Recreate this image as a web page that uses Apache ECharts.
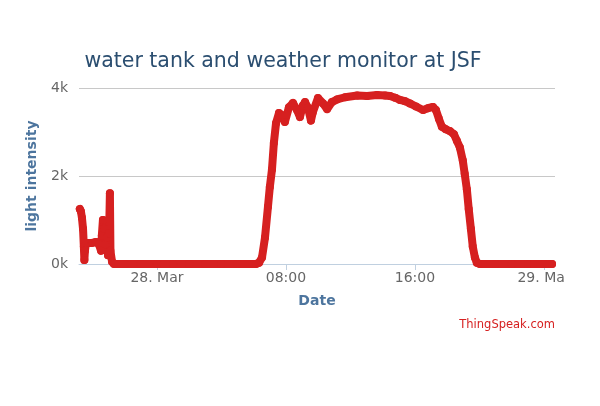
<!DOCTYPE html>
<html>
<head>
<meta charset="utf-8">
<script src="https://cdn.jsdelivr.net/npm/echarts@6/dist/echarts.min.js"></script>
<style>
  html, body { margin: 0; padding: 0; background: #ffffff; }
  #chart { width: 566px; height: 406px; }
</style>
</head>
<body>
<div id="chart"></div>
<script>
// ---- data ----
const titleText = 'water tank and weather monitor at JSF';
const yAxisTitle = 'light intensity';
const xAxisTitle = 'Date';
const creditText = 'ThingSpeak.com';

const axisStart = '2016-03-27 19:10';
const axisEnd = '2016-03-29 00:41';
const xTickValues = ['2016-03-28 00:00', '2016-03-28 08:00', '2016-03-28 16:00', '2016-03-29 00:00'];
const yTickValues = [0, 2000, 4000];
const yTickLabels = ['0k', '2k', '4k'];

const times = [
  '2016-03-27 19:13', '2016-03-27 19:17', '2016-03-27 19:21', '2016-03-27 19:25', '2016-03-27 19:28',
  '2016-03-27 19:30', '2016-03-27 19:32', '2016-03-27 19:36', '2016-03-27 19:43', '2016-03-27 19:58',
  '2016-03-27 20:13', '2016-03-27 20:24', '2016-03-27 20:32', '2016-03-27 20:35', '2016-03-27 20:39',
  '2016-03-27 20:43', '2016-03-27 20:47', '2016-03-27 20:54', '2016-03-27 20:58', '2016-03-27 21:02',
  '2016-03-27 21:05', '2016-03-27 21:07', '2016-03-27 21:13', '2016-03-27 21:20',
  '2016-03-27 22:00', '2016-03-27 23:00', '2016-03-28 00:00', '2016-03-28 01:00', '2016-03-28 02:00',
  '2016-03-28 03:00', '2016-03-28 04:00', '2016-03-28 05:00', '2016-03-28 06:08',
  '2016-03-28 06:20', '2016-03-28 06:31', '2016-03-28 06:42', '2016-03-28 06:53', '2016-03-28 07:00',
  '2016-03-28 07:08', '2016-03-28 07:15', '2016-03-28 07:23', '2016-03-28 07:34', '2016-03-28 07:45',
  '2016-03-28 07:56', '2016-03-28 08:11', '2016-03-28 08:26', '2016-03-28 08:41', '2016-03-28 08:52',
  '2016-03-28 09:03', '2016-03-28 09:11', '2016-03-28 09:22', '2016-03-28 09:33', '2016-03-28 09:40',
  '2016-03-28 09:59', '2016-03-28 10:18', '2016-03-28 10:33', '2016-03-28 10:51', '2016-03-28 11:10',
  '2016-03-28 11:40', '2016-03-28 12:25', '2016-03-28 13:02', '2016-03-28 13:39', '2016-03-28 14:09',
  '2016-03-28 14:27', '2016-03-28 14:46', '2016-03-28 15:04', '2016-03-28 15:23', '2016-03-28 15:41',
  '2016-03-28 16:04', '2016-03-28 16:30', '2016-03-28 16:48', '2016-03-28 17:07', '2016-03-28 17:18',
  '2016-03-28 17:29', '2016-03-28 17:40', '2016-03-28 17:55', '2016-03-28 18:10', '2016-03-28 18:25',
  '2016-03-28 18:36', '2016-03-28 18:47', '2016-03-28 18:58', '2016-03-28 19:05', '2016-03-28 19:13',
  '2016-03-28 19:20', '2016-03-28 19:28', '2016-03-28 19:35', '2016-03-28 19:43', '2016-03-28 19:50',
  '2016-03-28 20:02', '2016-03-28 21:00', '2016-03-28 22:00', '2016-03-28 23:00', '2016-03-29 00:00',
  '2016-03-29 00:30'
];
const values = [
  1250, 1200, 1050, 800, 400,
  90, 300, 480, 480, 480,
  500, 450, 300, 650, 1000,
  800, 450, 600, 200, 700,
  1610, 300, 50, 0,
  0, 0, 0, 0, 0,
  0, 0, 0, 0,
  30, 150, 600, 1300, 1750,
  2150, 2750, 3200, 3430, 3380,
  3230, 3560, 3660, 3500, 3340,
  3600, 3680, 3550, 3260, 3450,
  3770, 3650, 3520, 3680, 3740,
  3790, 3830, 3820, 3840, 3830,
  3820, 3780, 3730, 3700, 3650,
  3580, 3500, 3540, 3570, 3500,
  3300, 3120, 3060, 3020, 2950,
  2800, 2650, 2350, 2050, 1700,
  1250, 800, 400, 150, 30,
  0, 0, 0, 0, 0,
  0
];

// ---- chart ----
const toTs = s => +new Date(s.replace(' ', 'T') + ':00');
const seriesData = times.map((t, i) => [toTs(t), values[i]]);
const xTicks = xTickValues.map(toTs);
const months = ['Jan','Feb','Mar','Apr','May','Jun','Jul','Aug','Sep','Oct','Nov','Dec'];

const chart = echarts.init(document.getElementById('chart'), null, { renderer: 'canvas' });
chart.setOption({
  animation: false,
  backgroundColor: '#ffffff',
  title: {
    text: titleText,
    left: 'center',
    top: 46,
    textStyle: { fontFamily: 'DejaVu Sans', fontSize: 20.5, fontWeight: 'normal', color: '#2b4e70' }
  },
  graphic: [{
    type: 'text',
    right: 11,
    top: 319,
    style: { text: creditText, fontFamily: 'DejaVu Sans', fontSize: 11.5, fill: '#d62020' }
  }],
  grid: { left: 79, right: 11, top: 88, bottom: 142, containLabel: false, outerBoundsMode: 'none' },
  xAxis: {
    type: 'value',
    min: toTs(axisStart),
    max: toTs(axisEnd),
    name: xAxisTitle,
    nameLocation: 'middle',
    nameGap: 30,
    nameTextStyle: { fontFamily: 'DejaVu Sans', fontSize: 14, fontWeight: 'bold', color: '#4d759e' },
    axisLine: { show: true, lineStyle: { color: '#c0d0e0', width: 1 } },
    axisTick: { show: true, length: 6, customValues: xTicks, lineStyle: { color: '#c0d0e0' } },
    axisLabel: {
      customValues: xTicks,
      margin: 7,
      hideOverlap: false,
      fontFamily: 'DejaVu Sans',
      fontSize: 14,
      color: '#666666',
      formatter: function (v) {
        const d = new Date(v);
        if (d.getHours() === 0) return d.getDate() + '. ' + months[d.getMonth()];
        return String(d.getHours()).padStart(2, '0') + ':00';
      }
    },
    splitLine: { show: false }
  },
  yAxis: {
    type: 'value',
    min: 0,
    max: 4000,
    interval: 2000,
    name: yAxisTitle,
    nameLocation: 'middle',
    nameGap: 40,
    nameTextStyle: { fontFamily: 'DejaVu Sans', fontSize: 14, fontWeight: 'bold', color: '#4d759e' },
    axisLine: { show: false },
    axisTick: { show: false },
    axisLabel: {
      margin: 11,
      fontFamily: 'DejaVu Sans',
      fontSize: 14,
      color: '#666666',
      formatter: function (v) { return yTickLabels[yTickValues.indexOf(v)]; }
    },
    splitLine: { show: true, lineStyle: { color: '#c8c8c8', width: 1 } }
  },
  series: [{
    type: 'line',
    data: seriesData,
    clip: false,
    showSymbol: true,
    showAllSymbol: true,
    symbol: 'circle',
    symbolSize: 8,
    itemStyle: { color: '#d62020' },
    lineStyle: { color: '#d62020', width: 8, cap: 'round', join: 'round' },
    z: 3
  }]
});
</script>
</body>
</html>
